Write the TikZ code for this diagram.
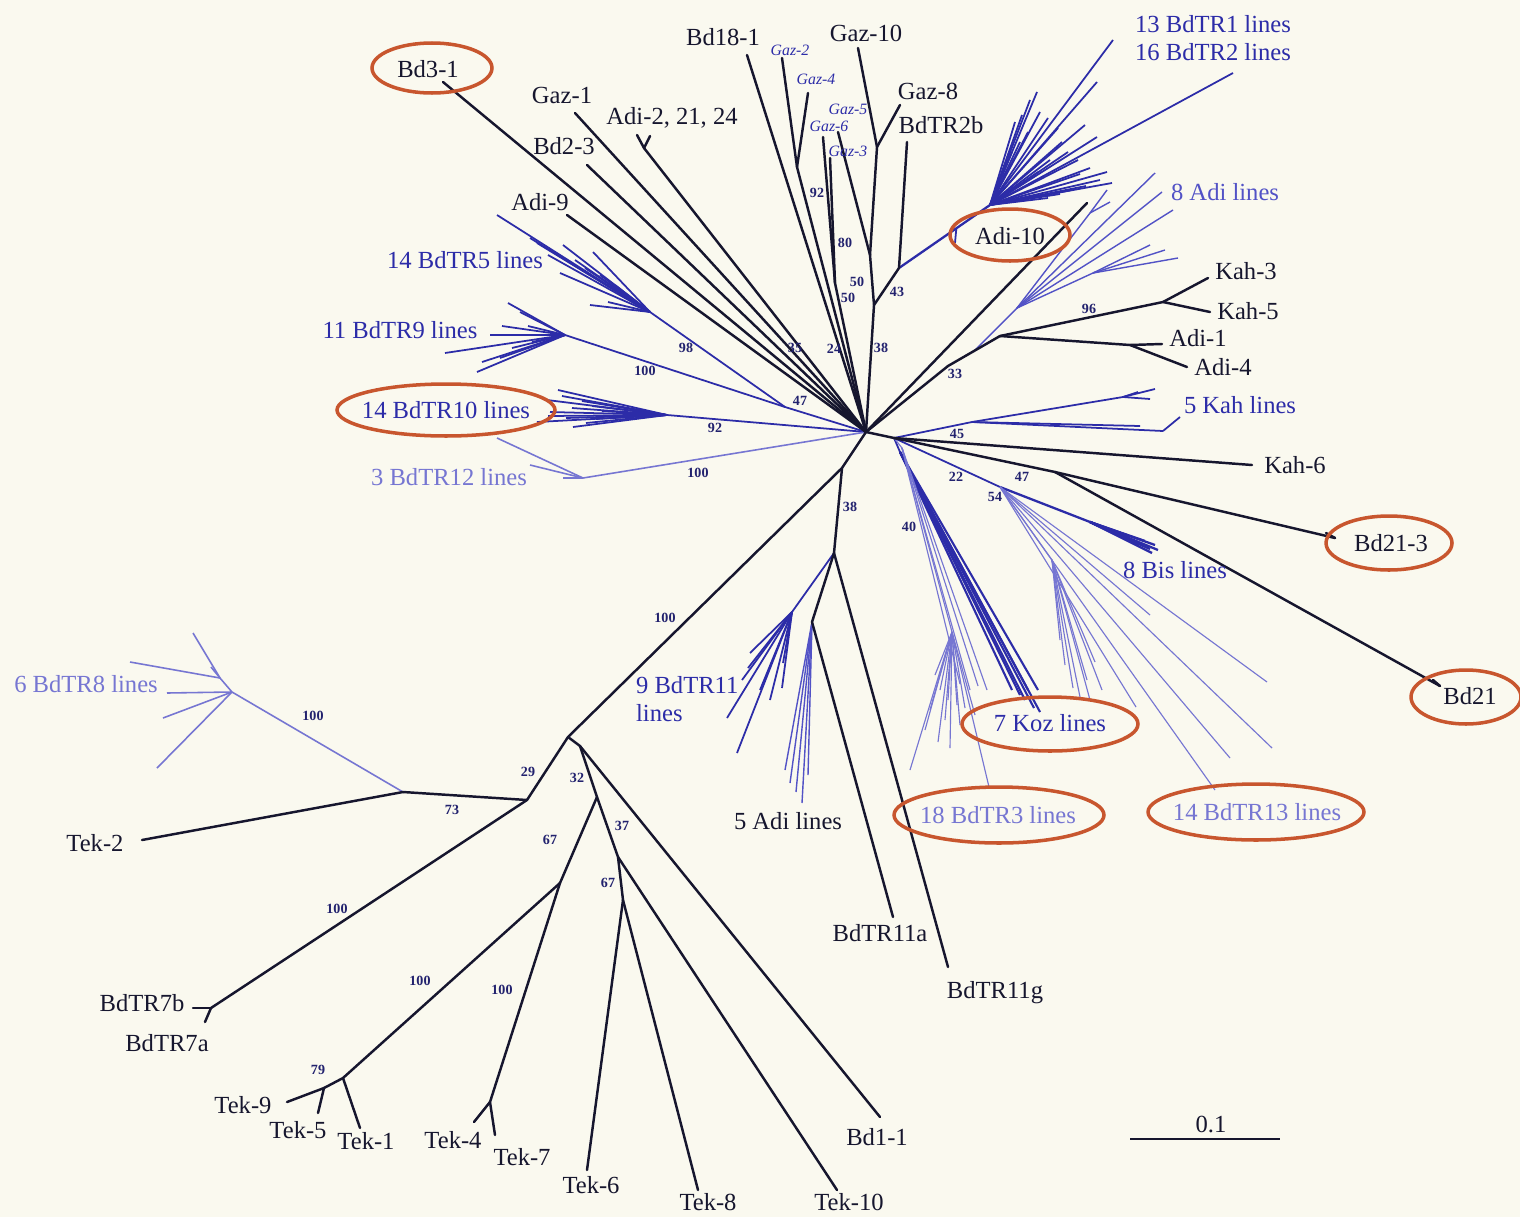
\documentclass[tikz,border=0pt]{standalone}
\usepackage{fontspec}
\setmainfont{Liberation Serif}
\usetikzlibrary{shapes.geometric,calc}
\definecolor{paper}{HTML}{FAF9EF}
\definecolor{ink}{HTML}{16162E}
\definecolor{fanblue}{HTML}{2C2CA8}
\definecolor{adiblue}{HTML}{5252C6}
\definecolor{lav}{HTML}{7676D2}
\definecolor{bsnavy}{HTML}{22226E}
\definecolor{ringc}{HTML}{C8562E}
\tikzset{
  brch/.style={draw=ink, line width=1.4pt, line cap=round},
  fanln/.style={draw=fanblue, line width=1pt},
  adiln/.style={draw=adiblue, line width=0.8pt},
  lavln/.style={draw=lav, line width=0.65pt},
  tiplab/.style={text=ink, font=\fontsize{14}{16}\selectfont, inner sep=1pt},
  grplab/.style={font=\fontsize{14}{16}\selectfont, inner sep=1pt},
  gazlab/.style={text=fanblue, font=\itshape\fontsize{9}{10}\selectfont, inner sep=0pt},
  boot/.style={text=bsnavy, font=\bfseries\fontsize{8}{9}\selectfont, inner sep=0pt},
  ring/.style={draw=ringc, line width=2pt, ellipse, inner sep=0pt}
}

\begin{document}
\begin{tikzpicture}[x=0.02cm, y=-0.02cm]
  \fill[paper] (0,0) rectangle (1520,1217);
  \useasboundingbox (0,0) rectangle (1520,1217);

  % hubs
  \coordinate (C) at (866,432);
  \coordinate (H2) at (894,438);

  % upper left leaves
  \coordinate (bd31) at (443,82);
  \coordinate (gaz1) at (575,113);
  \coordinate (adi2) at (644,148);
  \coordinate (adi2a) at (637,135);
  \coordinate (adi2b) at (650,136);
  \coordinate (bd23) at (587,165);
  \coordinate (adi9) at (567,215);

  % upper centre leaves
  \coordinate (bd181) at (747,55);
  \coordinate (gaz2) at (782,58);
  \coordinate (gaz4) at (808,93);
  \coordinate (n92) at (797,167);
  \coordinate (gaz6) at (823,137);
  \coordinate (gaz3) at (830,158);
  \coordinate (n80) at (835,283);
  \coordinate (gaz5) at (838,132);
  \coordinate (gaz10) at (858,48);
  \coordinate (gaz8) at (900,105);
  \coordinate (j108) at (877,147);
  \coordinate (n50) at (870,255);
  \coordinate (n38) at (874,305);
  \coordinate (n43) at (899,268);
  \coordinate (bdtr2b) at (907,142);
  \coordinate (f12) at (990,205);
  \coordinate (a10t) at (955,243);
  \coordinate (nu) at (1087,203);

  % right
  \coordinate (n33) at (948,366);
  \coordinate (nk) at (1000,336);
  \coordinate (nkah) at (1163,302);
  \coordinate (kah3) at (1208,278);
  \coordinate (kah5) at (1210,312);
  \coordinate (nadi) at (1130,345);
  \coordinate (adi1) at (1162,344);
  \coordinate (adi4) at (1187,367);
  \coordinate (adis) at ($(n33)!0.5!(nk)$);
  \coordinate (ba) at (1017,308);
  \coordinate (bb) at (1093,273);
  \coordinate (bc) at (1090,213);
  \coordinate (k1) at (972,422);
  \coordinate (ku) at (1123,397);
  \coordinate (kl) at (1163,431);
  \coordinate (kt) at (1180,417);
  \coordinate (kah6) at (1252,465);
  \coordinate (n47) at (1055,472);
  \coordinate (bd213) at (1335,538);
  \coordinate (bd213t) at (1326,533);
  \coordinate (bd21) at (1440,686);
  \coordinate (bd21t) at (1433,680);
  \coordinate (n54) at (1000,487);
  \coordinate (bis) at (1090,522);
  \coordinate (s13) at (1052,560);
  \coordinate (koz) at (900,452);
  \coordinate (b3) at (902,448);
  \coordinate (s3) at (952,632);

  % lower centre
  \coordinate (n38b) at (842,468);
  \coordinate (n38c) at (834,553);
  \coordinate (b11) at (792,612);
  \coordinate (na) at (812,622);
  \coordinate (bdtr11a) at (893,917);
  \coordinate (bdtr11g) at (948,967);

  % left blue clades
  \coordinate (b5) at (650,312);
  \coordinate (b9) at (565,335);
  \coordinate (n98) at (785,407);
  \coordinate (b10) at (667,415);
  \coordinate (b12) at (583,478);

  % lower left
  \coordinate (n29) at (568,737);
  \coordinate (n73) at (527,800);
  \coordinate (nb8) at (403,792);
  \coordinate (tek2) at (142,840);
  \coordinate (b8) at (232,692);
  \coordinate (s8) at (220,678);
  \coordinate (nb7) at (211,1008);
  \coordinate (bdtr7b) at (193,1008);
  \coordinate (bdtr7a) at (205,1022);
  \coordinate (n32) at (580,746);
  \coordinate (n37) at (597,797);
  \coordinate (bd11) at (880,1117);
  \coordinate (n67a) at (560,883);
  \coordinate (n67b) at (618,857);
  \coordinate (n79) at (343,1078);
  \coordinate (n79b) at (324,1088);
  \coordinate (tek9) at (287,1102);
  \coordinate (tek5) at (318,1113);
  \coordinate (tek1) at (360,1128);
  \coordinate (n47t) at (490,1102);
  \coordinate (tek4) at (474,1122);
  \coordinate (tek7) at (495,1135);
  \coordinate (n67c) at (623,900);
  \coordinate (tek6) at (587,1170);
  \coordinate (tek8) at (698,1190);
  \coordinate (tek10) at (837,1190);

  % blue fans
  \draw[fanln, line width=1.3pt] (n43) -- (f12);
  \draw[fanln] ($(n43)!0.63!(f12)$) -- (a10t);
  \foreach \p [count=\i] in {{1113,40},{1233,73},{1097,82},{1085,125},{1097,137},{1037,92},{1040,112},{1022,115},{1030,100},{1015,122},{1048,118},{1058,128},{1062,142},{1068,152},{1078,160},{1090,168},{1107,172},{1112,183},{1100,180},{1086,186},{1072,190},{1060,194},{1048,198},{1020,142},{1012,152},{1028,132},{1050,160},{1038,172},{1080,174}} {
    \coordinate (f12t\i) at (\p);
    \draw[fanln] (f12) -- (f12t\i);
  }
  \draw[adiln] (adis) -- (ba);
  \draw[adiln] (ba) -- (bb);
  \draw[adiln] (ba) -- (bc);
  \foreach \p [count=\i] in {{1155,173},{1162,192},{1173,210}} {
    \coordinate (bat\i) at (\p);
    \draw[adiln] (ba) -- (bat\i);
  }
  \foreach \p [count=\i] in {{1107,190},{1110,202}} {
    \coordinate (bct\i) at (\p);
    \draw[adiln] (bc) -- (bct\i);
  }
  \foreach \p [count=\i] in {{1150,245},{1165,250},{1178,258}} {
    \coordinate (bbt\i) at (\p);
    \draw[adiln] (bb) -- (bbt\i);
  }
  \draw[fanln] (H2) -- (k1);
  \draw[fanln] (k1) -- (ku);
  \draw[fanln] (k1) -- (kl);
  \draw[fanln] (kl) -- (kt);
  \foreach \p [count=\i] in {{1155,389},{1150,399},{1138,392}} {
    \coordinate (kut\i) at (\p);
    \draw[fanln] (ku) -- (kut\i);
  }
  \coordinate (k1t) at (1140,426);
  \draw[fanln] (k1) -- (k1t);

  \draw[fanln] (H2) -- (n54);
  \draw[fanln, line width=1.3pt] (n54) -- (bis);
  \foreach \p [count=\i] in {{1158,550},{1155,545},{1150,549},{1145,541},{1138,545},{1128,536},{1118,534},{1152,553}} {
    \coordinate (bist\i) at (\p);
    \draw[fanln, line width=1.3pt] (bis) -- (bist\i);
  }
  \foreach \p [count=\i] in {{1150,615},{1267,682},{1272,748},{1230,758},{1215,790},{1136,707}} {
    \coordinate (n54t\i) at (\p);
    \draw[lavln] (n54) -- (n54t\i);
  }
  \draw[lavln] (n54) -- (s13);
  \foreach \p [count=\i] in {{1080,697},{1073,688},{1065,665},{1087,680},{1095,662},{1060,640},{1090,700},{1102,690}} {
    \coordinate (s13t\i) at (\p);
    \draw[lavln] (s13) -- (s13t\i);
  }
  \draw[fanln] (H2) -- (koz);
  \foreach \p [count=\i] in {{1012,690},{1020,695},{1028,690},{1034,708},{1038,690},{1040,712},{1025,700}} {
    \coordinate (kozt\i) at (\p);
    \draw[fanln, line width=1.2pt] (koz) -- (kozt\i);
  }
  \draw[lavln] (H2) -- (b3);
  \draw[lavln] (b3) -- (s3);
  \foreach \p [count=\i] in {{987,690},{978,686},{970,690},{960,684}} {
    \coordinate (b3t\i) at (\p);
    \draw[lavln] (b3) -- (b3t\i);
  }
  \foreach \p [count=\i] in {{910,770},{989,787},{935,675},{940,690},{948,700},{957,705},{965,708},{930,710},{945,720},{960,725},{925,730},{975,715},{938,742},{950,748}} {
    \coordinate (s3t\i) at (\p);
    \draw[lavln] (s3) -- (s3t\i);
  }
  \draw[fanln] (n38c) -- (b11);
  \foreach \p [count=\i] in {{750,653},{748,668},{727,718},{737,753},{782,688},{783,663},{770,700},{760,690},{742,680}} {
    \coordinate (b11t\i) at (\p);
    \draw[fanln] (b11) -- (b11t\i);
  }
  \foreach \p [count=\i] in {{790,783},{802,803},{796,792},{808,775},{785,770}} {
    \coordinate (nat\i) at (\p);
    \draw[adiln] (na) -- (nat\i);
  }

  % left clades
  \draw[fanln] (b5) -- (n98);
  \draw[fanln] (b9) -- (n98);
  \draw[fanln] (n98) -- (C);
  \draw[fanln] (b10) -- (C);
  \draw[lavln, line width=0.9pt] (b12) -- (C);
  \foreach \p [count=\i] in {{497,215},{537,243},{563,245},{593,252},{560,273},{590,305},{608,302},{575,260},{600,275},{615,285},{530,238},{585,268},{622,296},{548,255}} {
    \coordinate (b5t\i) at (\p);
    \draw[fanln] (b5) -- (b5t\i);
  }
  \foreach \p [count=\i] in {{508,303},{502,326},{490,335},{445,353},{477,372},{482,362},{520,312},{532,342},{512,348},{500,358},{528,326}} {
    \coordinate (b9t\i) at (\p);
    \draw[fanln] (b9) -- (b9t\i);
  }
  \foreach \p [count=\i] in {{558,390},{547,400},{550,412},{537,422},{573,427},{562,396},{582,401},{592,406},{602,411},{566,418},{586,423},{548,416},{572,408},{596,419}} {
    \coordinate (b10t\i) at (\p);
    \draw[fanln] (b10) -- (b10t\i);
  }
  \foreach \p [count=\i] in {{497,438},{530,465},{563,478}} {
    \coordinate (b12t\i) at (\p);
    \draw[lavln, line width=0.9pt] (b12) -- (b12t\i);
  }
  \draw[lavln, line width=0.9pt] (nb8) -- (b8);
  \draw[lavln, line width=0.9pt] (b8) -- (s8);
  \foreach \p [count=\i] in {{193,633},{130,662},{211,667}} {
    \coordinate (s8t\i) at (\p);
    \draw[lavln, line width=0.9pt] (s8) -- (s8t\i);
  }
  \foreach \p [count=\i] in {{167,693},{163,718},{157,768}} {
    \coordinate (b8t\i) at (\p);
    \draw[lavln, line width=0.9pt] (b8) -- (b8t\i);
  }

  % black branches
  \foreach \a/\b in {bd31/C, gaz1/C, adi2/C, adi2/adi2a, adi2/adi2b, bd23/C, adi9/C,
      bd181/C, gaz2/n92, gaz4/n92, n92/C, gaz6/n80, gaz3/n80, n80/C,
      gaz5/n50, gaz10/j108, gaz8/j108, j108/n50, n50/n38, n38/C, n38/n43, n43/bdtr2b,
      C/H2, C/nu, C/n33, n33/nk, nk/nkah, nkah/kah3, nkah/kah5, nk/nadi, nadi/adi1, nadi/adi4,
      H2/kah6, H2/n47, n47/bd213, bd213/bd213t, n47/bd21, bd21/bd21t,
      C/n38b, n38b/n38c, n38c/na, na/bdtr11a, n38c/bdtr11g,
      n38b/n29, n29/n73, n73/nb8, nb8/tek2, n73/nb7, nb7/bdtr7b, nb7/bdtr7a,
      n29/n32, n32/n37, n32/bd11, n37/n67a, n37/n67b, n67a/n79, n79/n79b,
      n79b/tek9, n79b/tek5, n79/tek1, n67a/n47t, n47t/tek4, n47t/tek7,
      n67b/n67c, n67c/tek6, n67c/tek8, n67b/tek10}
    \draw[brch] (\a) -- (\b);

  % bootstrap values
  \foreach \p/\v [count=\i] in {{817,193}/92, {845,243}/80, {857,282}/50, {848,298}/50,
      {897,292}/43, {795,348}/35, {834,349}/24, {881,348}/38, {955,374}/33, {1089,309}/96,
      {686,348}/98, {645,371}/100, {800,401}/47, {715,428}/92, {698,473}/100,
      {957,434}/45, {956,477}/22, {1022,477}/47, {995,497}/54, {850,507}/38, {909,527}/40,
      {665,618}/100, {313,716}/100, {528,772}/29, {577,778}/32, {452,810}/73, {550,840}/67,
      {622,826}/37, {608,883}/67, {337,909}/100, {420,981}/100, {502,990}/100, {318,1070}/79}
    \node[boot] (bs\i) at (\p) {\v};

  % rings
  \node[ring, minimum width=2.4cm, minimum height=1cm] (rbd31) at (432,68) {};
  \node[ring, minimum width=2.4cm, minimum height=1.04cm] (radi10) at (1010,235) {};
  \node[ring, minimum width=4.36cm, minimum height=1.04cm] (rbdtr10) at (446,410) {};
  \node[ring, minimum width=2.52cm, minimum height=1.08cm] (rbd213) at (1389,543) {};
  \node[ring, minimum width=2.2cm, minimum height=1.08cm] (rbd21) at (1466,697) {};
  \node[ring, minimum width=3.52cm, minimum height=1.08cm] (rkoz) at (1050,724) {};
  \node[ring, minimum width=4.2cm, minimum height=1.12cm] (rbdtr3) at (999,815) {};
  \node[ring, minimum width=4.32cm, minimum height=1.12cm] (rbdtr13) at (1256,812) {};

  % leaf labels
  \node[tiplab] (lbd31) at (428,69) {Bd3-1};
  \node[tiplab] (lbd181) at (723,37) {Bd18-1};
  \node[tiplab] (lgaz10) at (866,33) {Gaz-10};
  \node[tiplab] (lgaz8) at (928,91) {Gaz-8};
  \node[tiplab] (lgaz1) at (562,95) {Gaz-1};
  \node[tiplab] (ladi2) at (672,118) {Adi-2, 21, 24};
  \node[tiplab] (lbdtr2b) at (941,125) {BdTR2b};
  \node[tiplab] (lbd23) at (564,146) {Bd2-3};
  \node[tiplab] (ladi9) at (540,202) {Adi-9};
  \node[gazlab] (lgaz2) at (790,50) {Gaz-2};
  \node[gazlab] (lgaz4) at (816,79) {Gaz-4};
  \node[gazlab] (lgaz5) at (848,109) {Gaz-5};
  \node[gazlab] (lgaz6) at (829,126) {Gaz-6};
  \node[gazlab] (lgaz3) at (848,151) {Gaz-3};
  \node[tiplab] (ladi10) at (1010,236) {Adi-10};
  \node[tiplab] (lkah3) at (1246,271) {Kah-3};
  \node[tiplab] (lkah5) at (1248,311) {Kah-5};
  \node[tiplab] (ladi1) at (1198,338) {Adi-1};
  \node[tiplab] (ladi4) at (1223,367) {Adi-4};
  \node[tiplab] (lkah6) at (1295,465) {Kah-6};
  \node[tiplab] (lbd213) at (1391,543) {Bd21-3};
  \node[tiplab] (lbd21) at (1470,696) {Bd21};
  \node[tiplab] (ltek2) at (95,843) {Tek-2};
  \node[tiplab] (lbdtr11a) at (880,933) {BdTR11a};
  \node[tiplab] (lbdtr11g) at (995,993) {BdTR11g};
  \node[tiplab] (lbdtr7b) at (142,1003) {BdTR7b};
  \node[tiplab] (lbdtr7a) at (167,1043) {BdTR7a};
  \node[tiplab] (ltek9) at (243,1105) {Tek-9};
  \node[tiplab] (ltek5) at (298,1130) {Tek-5};
  \node[tiplab] (ltek1) at (366,1141) {Tek-1};
  \node[tiplab] (ltek4) at (453,1140) {Tek-4};
  \node[tiplab] (ltek7) at (522,1157) {Tek-7};
  \node[tiplab] (ltek6) at (591,1185) {Tek-6};
  \node[tiplab] (ltek8) at (708,1202) {Tek-8};
  \node[tiplab] (ltek10) at (849,1202) {Tek-10};
  \node[tiplab] (lbd11) at (877,1137) {Bd1-1};

  % clade labels
  \node[grplab, text=fanblue] (lbdtr1) at (1213,24) {13 BdTR1 lines};
  \node[grplab, text=fanblue] (lbdtr2) at (1213,52) {16 BdTR2 lines};
  \node[grplab, text=adiblue] (ladi8) at (1225,192) {8 Adi lines};
  \node[grplab, text=fanblue] (lbdtr5) at (465,260) {14 BdTR5 lines};
  \node[grplab, text=fanblue] (lbdtr9) at (400,330) {11 BdTR9 lines};
  \node[grplab, text=fanblue] (lbdtr10) at (446,410) {14 BdTR10 lines};
  \node[grplab, text=lav] (lbdtr12) at (449,477) {3 BdTR12 lines};
  \node[grplab, text=fanblue] (lkah5l) at (1240,405) {5 Kah lines};
  \node[grplab, text=fanblue] (lbis) at (1175,570) {8 Bis lines};
  \node[grplab, text=fanblue] (lkoz) at (1050,723) {7 Koz lines};
  \node[grplab, text=fanblue, align=left, anchor=west] (lbdtr11) at (634,699) {9 BdTR11\\lines};
  \node[grplab, text=lav] (lbdtr8) at (86,684) {6 BdTR8 lines};
  \node[grplab, text=ink] (ladi5) at (788,821) {5 Adi lines};
  \node[grplab, text=lav] (lbdtr3) at (998,815) {18 BdTR3 lines};
  \node[grplab, text=lav] (lbdtr13) at (1257,812) {14 BdTR13 lines};

  % scale bar
  \coordinate (sb1) at (1130,1139);
  \coordinate (sb2) at (1280,1139);
  \draw[brch, line cap=butt] (sb1) -- (sb2);
  \node[tiplab] (lsb) at (1211,1124) {0.1};
\end{tikzpicture}
\end{document}
